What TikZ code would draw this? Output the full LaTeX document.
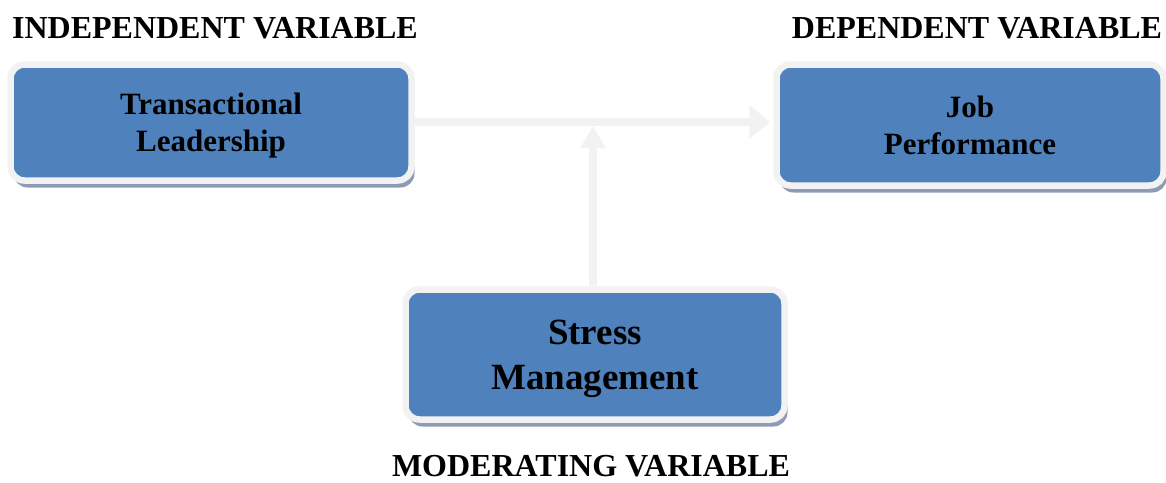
\documentclass[tikz,border=0pt]{standalone}
\usepackage{fontspec}
\setmainfont{Liberation Serif}
\usepackage{tikz}
\usetikzlibrary{arrows.meta,positioning,shadows,calc}
\definecolor{boxblue}{HTML}{4F81BD}
\definecolor{rim}{HTML}{F2F2F2}
\definecolor{shade}{HTML}{8D9CB4}

\begin{document}
\begin{tikzpicture}[x=1pt,y=-1pt,
    varbox/.style={rectangle, rounded corners=14pt, fill=boxblue, draw=rim,
      line width=6.5pt, align=center, inner sep=0pt, text depth=0pt,
      font=\bfseries\fontsize{31}{37}\selectfont,
      drop shadow={shadow xshift=3pt, shadow yshift=-7pt, fill=shade, opacity=1}},
    heading/.style={inner sep=0pt, font=\bfseries\fontsize{32}{38}\selectfont},
    flow/.style={draw=rim, line width=8pt}]
        \useasboundingbox (0,0) rectangle (1166,482);
        \node[varbox, minimum width=401pt, minimum height=116pt] (tl) at (211,122.5)
          {Transactional\\Leadership};
        \node[varbox, minimum width=387pt, minimum height=121pt] (jp) at (970,125)
          {Job\\Performance};
        \node[varbox, minimum width=379pt, minimum height=130pt,
          font=\bfseries\fontsize{37}{45}\selectfont] (sm) at (595,354.5)
          {Stress\\Management};
        \node[heading] (iv) at (215,28) {INDEPENDENT VARIABLE};
        \node[heading] (dv) at (977,28) {DEPENDENT VARIABLE};
        \node[heading] (mv) at (591,466) {MODERATING VARIABLE};
        \coordinate (join) at (593,122);
        \draw[flow, -{Triangle[length=21pt,width=33pt]}, shorten >=3pt]
          (tl.east |- join) -- (jp.west |- join);
        \draw[flow, -{Triangle[length=22pt,width=24pt]}]
          (sm.north -| join) -- ($(join)+(0,4)$);
      \end{tikzpicture}
\end{document}
